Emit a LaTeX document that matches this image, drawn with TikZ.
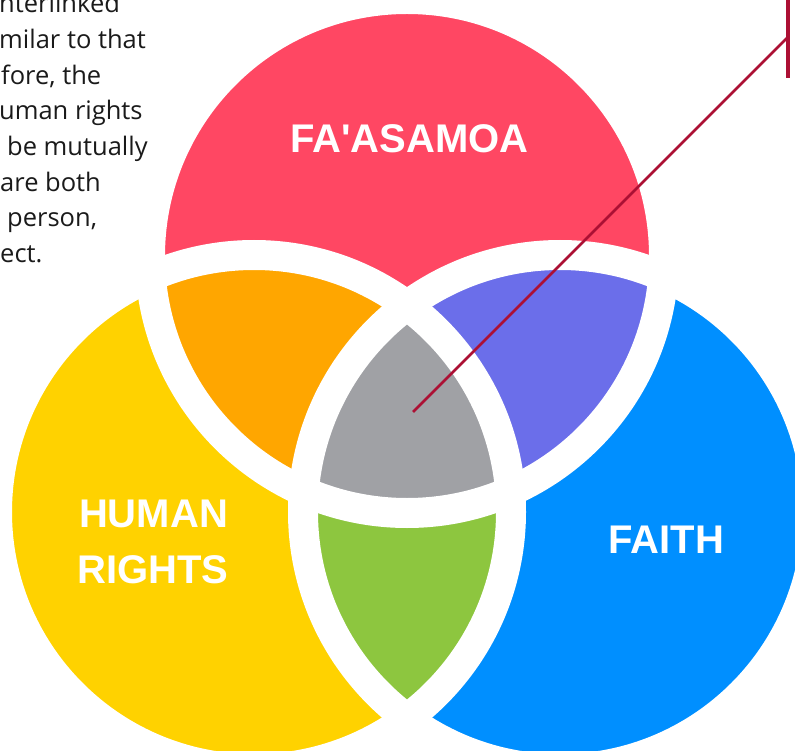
\documentclass[tikz,border=0pt]{standalone}
\usepackage{fontspec}
\setmainfont{Liberation Sans}
\newfontfamily\handfont{Open Sans}
\definecolor{cred}{RGB}{255,71,99}
\definecolor{corange}{RGB}{255,166,0}
\definecolor{cyellow}{RGB}{255,210,0}
\definecolor{cblue}{RGB}{0,143,255}
\definecolor{cpurple}{RGB}{107,110,234}
\definecolor{cgreen}{RGB}{141,198,63}
\definecolor{cgray}{RGB}{160,161,165}
\definecolor{ccrimson}{RGB}{172,16,52}
\definecolor{ctext}{RGB}{26,26,26}
\tikzset{
  title/.style={text=white, font=\bfseries\fontsize{40}{40}\selectfont, anchor=base, inner sep=0pt},
  para/.style={text=ctext, font=\handfont\fontsize{25.5}{25.5}\selectfont, anchor=base west, inner sep=0pt},
  band/.style={draw=white, line width=30pt},
  pointer/.style={draw=ccrimson, line width=2.5pt},
}
\begin{document}
\begin{tikzpicture}[x=1pt,y=-1pt]
\useasboundingbox (0,0) rectangle (795,751);
\coordinate (A) at (407,256);
\coordinate (B) at (254,512);
\coordinate (C) at (560,512);
\def\R{257}
% single regions
\fill[cred] (A) circle[radius=\R];
\fill[cyellow] (B) circle[radius=\R];
\fill[cblue] (C) circle[radius=\R];
% pairwise
\begin{scope}
  \clip (A) circle[radius=\R];
  \fill[corange] (B) circle[radius=\R];
  \fill[cpurple] (C) circle[radius=\R];
\end{scope}
\begin{scope}
  \clip (B) circle[radius=\R];
  \fill[cgreen] (C) circle[radius=\R];
  \clip (A) circle[radius=\R];
  \fill[cgray] (C) circle[radius=\R];
\end{scope}
% white bands
\draw[band] (A) circle[radius=\R];
\draw[band] (B) circle[radius=\R];
\draw[band] (C) circle[radius=\R];
% titles
\node[title] (fa) at (409.5,153) {FA\textquotesingle ASAMOA};
\node[title] (hum) at (153.5,527) {HUMAN};
\node[title] (rig) at (153,583) {RIGHTS};
\node[title] (fai) at (666.5,553) {FAITH};
% paragraph fragments
\node[para] (p1) at (-1,13) {nterlinked};
\node[para] (p2) at (-1,48.7) {milar to that};
\node[para] (p3) at (1,84.4) {fore, the};
\node[para] (p4) at (-1,120) {uman rights};
\node[para] (p5) at (7,155.8) {be mutually};
\node[para] (p6) at (0,191.5) {are both};
\node[para] (p7) at (7,227) {person,};
\node[para] (p8) at (0,263) {ect.};
% pointer
\coordinate (ctr) at (413,412);
\coordinate (tip) at (787,38);
\coordinate (bartop) at (788,-5);
\coordinate (barbot) at (788,78);
\draw[pointer] (ctr) -- (tip);
\draw[draw=ccrimson, line width=4pt] (bartop) -- (barbot);
\end{tikzpicture}
\end{document}
